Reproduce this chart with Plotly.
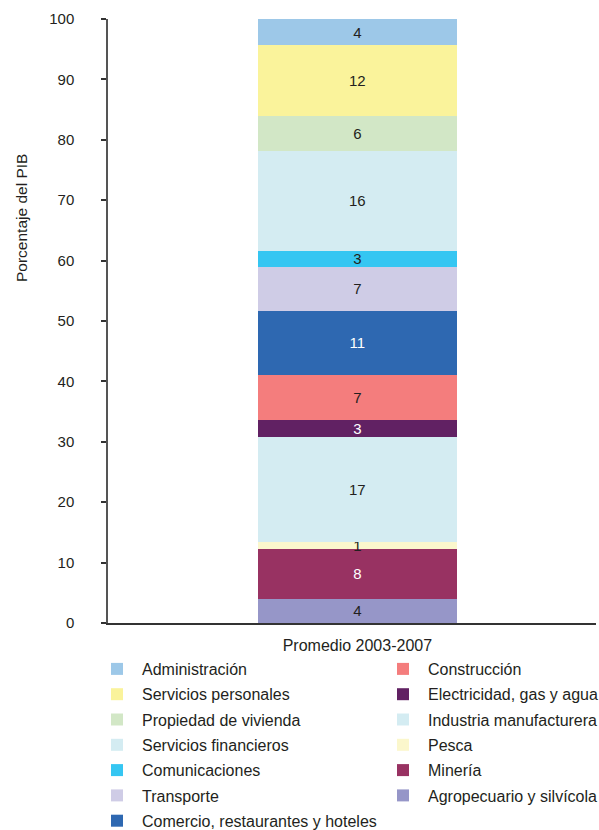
import plotly.graph_objects as go

# Sector shares of GDP, stacked from the bottom up
category = ["Promedio 2003-2007"]
sectors = [
    "Agropecuario y silvícola",
    "Minería",
    "Pesca",
    "Industria manufacturera",
    "Electricidad, gas y agua",
    "Construcción",
    "Comercio, restaurantes y hoteles",
    "Transporte",
    "Comunicaciones",
    "Servicios financieros",
    "Propiedad de vivienda",
    "Servicios personales",
    "Administración",
]
shares = [4.02, 8.27, 1.16, 17.37, 2.81, 7.44, 10.58, 7.33, 2.65, 16.49, 5.79, 11.75, 4.34]
colors = [
    "#9696C8", "#983262", "#FBF7CC", "#D4ECF2", "#612163", "#F47D7D",
    "#2E68B1", "#CFCCE6", "#35C6F2", "#D4ECF2", "#D2E7C6", "#FAF39B", "#9DC8E8",
]
label_colors = [
    "#231F20", "#FFFFFF", "#231F20", "#231F20", "#FFFFFF", "#231F20",
    "#FFFFFF", "#231F20", "#231F20", "#231F20", "#231F20", "#231F20", "#231F20",
]
# first six sectors go in the right-hand legend column
legend_ids = ["legend2"] * 6 + ["legend"] * 7

FONT = "Liberation Sans, Arial, sans-serif"
TXT = "#231F20"

fig = go.Figure()
n = len(sectors)
for i, (name, val, col, tcol, lg) in enumerate(zip(sectors, shares, colors, label_colors, legend_ids)):
    fig.add_trace(go.Bar(
        x=category, y=[val], name=name,
        marker=dict(color=col, line=dict(width=0)),
        width=0.408,
        texttemplate="%{y:.0f}", textposition="inside",
        insidetextanchor="middle", textangle=0,
        textfont=dict(color=tcol, size=15, family=FONT),
        legend=lg, legendgroup=name, legendrank=n - i,
    ))

W, H = 599, 830
L, R, T, B = 108, 3, 19, 207
pw, ph = W - L - R, H - T - B

def px_x(x):
    return (x - L) / pw

def px_y(y):
    return (H - B - y) / ph

legend_common = dict(
    orientation="v", traceorder="grouped", tracegroupgap=1.5,
    font=dict(size=16, family=FONT, color=TXT), bgcolor="rgba(0,0,0,0)",
    xanchor="left", yanchor="top", itemwidth=40,
)

fig.update_layout(
    width=W, height=H,
    margin=dict(l=L, r=R, t=T, b=B, autoexpand=False),
    barmode="stack",
    plot_bgcolor="white", paper_bgcolor="white",
    font=dict(family=FONT, size=15, color=TXT),
    uniformtext=dict(minsize=15, mode="show"),
    legend=dict(x=px_x(92), y=px_y(652), **legend_common),
    legend2=dict(x=px_x(378), y=px_y(652), **legend_common),
    xaxis=dict(
        range=[-0.511, 0.489], showline=True, linecolor="#333333", linewidth=2,
        ticks="", showgrid=False, zeroline=False, ticklabelstandoff=7,
        tickfont=dict(size=16, family=FONT, color=TXT),
    ),
    yaxis=dict(
        range=[0, 100], dtick=10, showline=True, linecolor="#555555", linewidth=1.5,
        ticks="outside", ticklen=5, tickcolor="#333333", tickwidth=1.5,
        showgrid=False, zeroline=False, ticklabelstandoff=24,
        tickfont=dict(size=15, family=FONT, color=TXT),
    ),
    annotations=[dict(
        text="Porcentaje del PIB", textangle=-90,
        xref="paper", yref="paper", x=px_x(22), y=px_y(218),
        xanchor="center", yanchor="middle", showarrow=False,
        font=dict(size=15.5, family=FONT, color=TXT),
    )],
)

fig.write_html("out.html")
